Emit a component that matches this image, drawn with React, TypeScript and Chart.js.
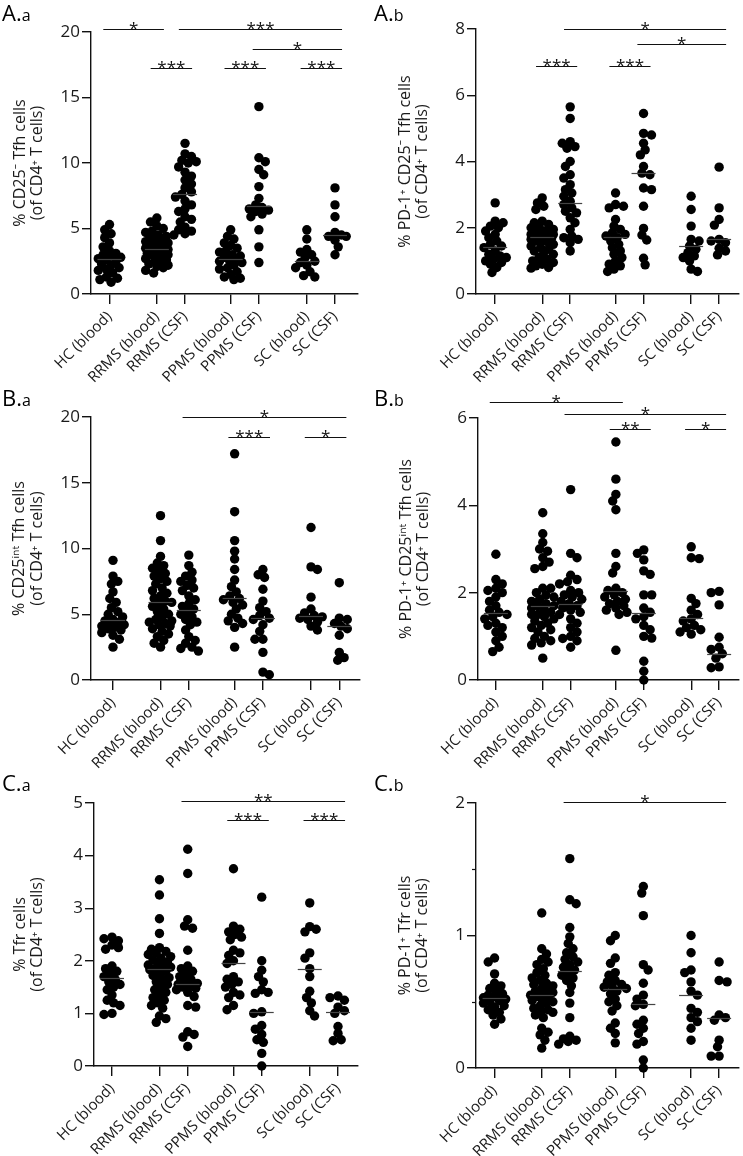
import React, { useEffect, useRef } from 'react';
import { Chart, registerables } from 'chart.js';

Chart.register(...registerables);

const FONT = "'Open Sans', 'Noto Sans', 'DejaVu Sans', sans-serif";
Chart.defaults.font.family = FONT;

// ---------- categories ----------
const CATEGORIES = ['HC (blood)', 'RRMS (blood)', 'RRMS (CSF)', 'PPMS (blood)', 'PPMS (CSF)', 'SC (blood)', 'SC (CSF)'];
const CATEGORY_POS = [0, 1.68, 2.68, 4.3, 5.3, 7.0, 8.0];

// ---------- A.a  % CD25- Tfh cells ----------
const AA_VALUES: number[][] = [
  [5.3, 4.9, 4.6, 4.3, 3.9, 3.6, 3.3, 3.1, 3.0, 2.9, 2.8, 2.7, 2.6, 2.5, 2.3, 2.2, 2.0, 1.9, 1.8, 1.6, 1.3, 1.2, 1.1, 0.9],
  [5.8, 5.5, 5.2, 5.0, 4.8, 4.7, 4.5, 4.4, 4.3, 4.2, 4.1, 4.0, 3.9, 3.8, 3.7, 3.6, 3.6, 3.5, 3.5, 3.4, 3.4, 3.3, 3.2, 3.1, 3.0, 2.9, 2.8, 2.7, 2.6, 2.5, 2.4, 2.3, 2.2, 2.1, 2.0, 1.8, 1.6],
  [11.5, 10.7, 10.5, 10.2, 10.1, 10.0, 9.7, 9.3, 9.0, 8.7, 8.4, 8.1, 7.8, 7.6, 7.4, 7.1, 6.8, 6.5, 6.3, 5.9, 5.7, 5.5, 5.1, 4.9, 4.8, 4.6, 4.5],
  [4.9, 4.4, 4.2, 3.9, 3.7, 3.5, 3.3, 3.2, 3.0, 2.9, 2.8, 2.7, 2.6, 2.5, 2.4, 2.2, 2.0, 1.9, 1.7, 1.5, 1.3, 1.2, 1.1],
  [14.3, 10.4, 10.1, 9.5, 9.1, 8.2, 7.3, 6.8, 6.6, 6.5, 6.4, 6.3, 6.1, 5.9, 4.9, 3.6, 2.4],
  [4.9, 4.2, 3.4, 3.2, 3.0, 2.8, 2.5, 2.4, 2.2, 2.0, 1.7, 1.4, 1.3],
  [8.1, 6.8, 5.9, 4.7, 4.5, 4.4, 4.4, 4.1, 3.6, 3.0],
];
const AA_CENTERS = [2.65, 3.4, 7.6, 2.65, 6.7, 2.5, 4.5];
const AA_BRACKETS: [number, number, number, string][] = [
  [0, 1, 20.25, '*'], [2, 6, 20.25, '***'], [4, 6, 18.7, '*'],
  [1, 2, 17.25, '***'], [3, 4, 17.25, '***'], [5, 6, 17.25, '***'],
];

// ---------- A.b  % PD-1+ CD25- Tfh cells ----------
const AB_VALUES: number[][] = [
  [2.75, 2.2, 2.15, 2.05, 2.0, 1.9, 1.8, 1.7, 1.6, 1.5, 1.45, 1.4, 1.3, 1.2, 1.15, 1.1, 1.05, 1.0, 0.95, 0.9, 0.8, 0.65],
  [2.9, 2.75, 2.65, 2.55, 2.2, 2.15, 2.1, 2.05, 2.0, 1.95, 1.9, 1.9, 1.85, 1.8, 1.8, 1.75, 1.75, 1.7, 1.7, 1.65, 1.6, 1.6, 1.55, 1.5, 1.45, 1.4, 1.35, 1.3, 1.25, 1.2, 1.1, 1.05, 1.0, 0.95, 0.9, 0.85, 0.8, 0.78],
  [5.65, 5.3, 4.6, 4.55, 4.45, 4.4, 4.0, 3.85, 3.6, 3.5, 3.3, 3.15, 3.05, 2.95, 2.8, 2.7, 2.6, 2.5, 2.45, 2.3, 2.15, 1.95, 1.75, 1.7, 1.65, 1.55, 1.3],
  [3.05, 2.7, 2.65, 2.6, 2.25, 2.05, 1.95, 1.85, 1.8, 1.75, 1.7, 1.6, 1.5, 1.4, 1.3, 1.2, 1.1, 1.0, 0.9, 0.85, 0.75, 0.68],
  [5.45, 4.85, 4.8, 4.55, 4.35, 4.2, 3.85, 3.65, 3.6, 3.2, 3.15, 2.65, 1.98, 1.78, 1.63, 1.08, 0.88],
  [2.95, 2.55, 2.05, 1.65, 1.6, 1.45, 1.35, 1.25, 1.15, 1.1, 1.0, 0.75, 0.68],
  [3.83, 2.6, 2.25, 2.08, 1.65, 1.6, 1.55, 1.38, 1.3, 1.18],
];
const AB_CENTERS = [1.43, 1.72, 2.76, 1.71, 3.65, 1.46, 1.65];
const AB_BRACKETS: [number, number, number, string][] = [
  [2, 6, 8.0, '*'], [4, 6, 7.55, '*'], [1, 2, 6.89, '***'], [3, 4, 6.89, '***'],
];

// ---------- B.a  % CD25int Tfh cells ----------
const BA_VALUES: number[][] = [
  [9.1, 7.9, 7.5, 7.3, 6.7, 6.2, 5.9, 5.5, 5.2, 5.0, 4.8, 4.6, 4.5, 4.4, 4.3, 4.2, 4.1, 4.0, 3.9, 3.8, 3.6, 3.4, 3.1, 2.5],
  [12.5, 10.6, 9.4, 8.9, 8.7, 8.5, 8.3, 8.1, 7.9, 7.7, 7.5, 7.3, 7.0, 6.8, 6.6, 6.4, 6.2, 6.0, 5.9, 5.8, 5.6, 5.4, 5.2, 5.0, 4.8, 4.6, 4.5, 4.4, 4.3, 4.2, 4.1, 3.9, 3.7, 3.5, 3.3, 3.0, 2.8, 2.5],
  [9.5, 8.7, 8.2, 7.9, 7.6, 7.5, 7.2, 7.0, 6.8, 6.4, 6.1, 5.8, 5.6, 5.4, 5.2, 5.0, 4.8, 4.6, 4.4, 4.2, 3.8, 3.3, 3.0, 2.8, 2.5, 2.4, 2.2],
  [17.2, 12.8, 10.6, 9.8, 9.2, 8.4, 7.6, 7.1, 6.7, 6.4, 6.2, 6.1, 5.9, 5.7, 5.4, 5.0, 4.7, 4.5, 4.3, 4.0, 2.5],
  [8.4, 8.0, 7.8, 6.9, 6.0, 5.5, 5.2, 4.9, 4.7, 4.6, 4.2, 3.7, 3.1, 3.1, 2.1, 0.6, 0.4],
  [11.6, 8.6, 8.4, 6.3, 5.4, 5.1, 4.9, 4.8, 4.7, 4.6, 4.4, 4.1, 3.8],
  [7.4, 4.7, 4.6, 4.3, 4.1, 3.9, 3.4, 2.1, 1.7, 1.5],
];
const BA_CENTERS = [4.55, 5.95, 5.3, 6.2, 4.7, 4.9, 4.1];
const BA_BRACKETS: [number, number, number, string][] = [
  [2, 6, 20.0, '*'], [3, 4, 18.5, '***'], [5, 6, 18.5, '*'],
];

// ---------- B.b  % PD-1+ CD25int Tfh cells ----------
const BB_VALUES: number[][] = [
  [2.88, 2.3, 2.2, 2.1, 2.05, 2.0, 1.9, 1.8, 1.7, 1.6, 1.55, 1.5, 1.45, 1.4, 1.3, 1.25, 1.2, 1.1, 1.0, 0.9, 0.75, 0.65],
  [3.83, 3.35, 3.15, 3.0, 2.95, 2.8, 2.7, 2.6, 2.55, 2.1, 2.1, 2.0, 1.95, 1.9, 1.85, 1.8, 1.75, 1.7, 1.7, 1.65, 1.6, 1.55, 1.5, 1.5, 1.45, 1.4, 1.35, 1.3, 1.25, 1.2, 1.15, 1.1, 1.0, 0.95, 0.9, 0.85, 0.8, 0.5],
  [4.36, 2.9, 2.8, 2.4, 2.3, 2.25, 2.2, 2.05, 2.0, 1.95, 1.9, 1.85, 1.8, 1.75, 1.7, 1.65, 1.6, 1.55, 1.5, 1.4, 1.3, 1.2, 1.1, 1.0, 0.95, 0.9, 0.75],
  [5.45, 4.6, 4.25, 4.1, 3.9, 2.9, 2.6, 2.45, 2.1, 2.05, 2.0, 1.95, 1.9, 1.85, 1.8, 1.75, 1.7, 1.65, 1.6, 1.55, 1.5, 0.68],
  [2.98, 2.9, 2.75, 2.5, 2.42, 1.95, 1.95, 1.65, 1.55, 1.45, 1.4, 1.25, 1.15, 1.0, 0.96, 0.43, 0.2, 0.0],
  [3.05, 2.8, 2.78, 1.87, 1.75, 1.6, 1.5, 1.4, 1.35, 1.25, 1.2, 1.15, 1.1, 1.05],
  [2.03, 2.0, 1.72, 0.98, 0.75, 0.7, 0.6, 0.5, 0.3, 0.28],
];
const BB_CENTERS = [1.53, 1.7, 1.75, 2.03, 1.53, 1.42, 0.6];
const BB_BRACKETS: [number, number, number, string][] = [
  [0, 3, 6.37, '*'], [2, 6, 6.1, '*'], [3, 4, 5.74, '**'], [5, 6, 5.74, '*'],
];

// ---------- C.a  % Tfr cells ----------
const CA_VALUES: number[][] = [
  [2.45, 2.42, 2.38, 2.3, 2.25, 2.22, 1.9, 1.85, 1.8, 1.75, 1.7, 1.65, 1.6, 1.55, 1.5, 1.45, 1.35, 1.25, 1.2, 1.15, 1.0, 0.98],
  [3.54, 3.25, 2.8, 2.52, 2.25, 2.22, 2.18, 2.15, 2.12, 2.08, 2.05, 2.02, 1.98, 1.95, 1.92, 1.9, 1.88, 1.85, 1.83, 1.8, 1.75, 1.72, 1.68, 1.65, 1.6, 1.55, 1.5, 1.45, 1.4, 1.35, 1.3, 1.25, 1.2, 1.15, 1.1, 0.95, 0.9, 0.83],
  [4.12, 3.66, 2.78, 2.66, 2.62, 2.2, 1.9, 1.85, 1.8, 1.75, 1.7, 1.65, 1.6, 1.57, 1.55, 1.52, 1.5, 1.48, 1.45, 1.4, 1.32, 1.15, 1.12, 0.65, 0.6, 0.55, 0.37],
  [3.75, 2.66, 2.6, 2.55, 2.5, 2.45, 2.4, 2.2, 2.15, 2.1, 2.0, 1.95, 1.7, 1.65, 1.6, 1.55, 1.5, 1.4, 1.35, 1.3, 1.15, 1.07],
  [3.21, 2.0, 1.82, 1.7, 1.6, 1.45, 1.4, 1.38, 1.03, 1.0, 0.77, 0.7, 0.6, 0.5, 0.45, 0.24, 0.0],
  [3.1, 2.65, 2.6, 2.55, 2.15, 2.05, 1.85, 1.7, 1.42, 1.3, 1.2, 1.05, 0.95],
  [1.33, 1.3, 1.25, 1.12, 1.05, 1.0, 0.75, 0.62, 0.5, 0.48],
];
const CA_CENTERS = [1.68, 1.84, 1.55, 1.95, 1.03, 1.85, 1.03];
const CA_BRACKETS: [number, number, number, string][] = [
  [2, 6, 5.04, '**'], [3, 4, 4.67, '***'], [5, 6, 4.67, '***'],
];

// ---------- C.b  % PD-1+ Tfr cells ----------
const CB_VALUES: number[][] = [
  [0.83, 0.8, 0.71, 0.64, 0.62, 0.6, 0.58, 0.56, 0.55, 0.54, 0.53, 0.52, 0.51, 0.5, 0.49, 0.47, 0.46, 0.44, 0.42, 0.4, 0.37, 0.33],
  [1.17, 0.9, 0.86, 0.82, 0.8, 0.78, 0.75, 0.72, 0.7, 0.68, 0.66, 0.64, 0.63, 0.62, 0.6, 0.59, 0.58, 0.57, 0.56, 0.55, 0.54, 0.53, 0.52, 0.51, 0.5, 0.49, 0.47, 0.45, 0.44, 0.43, 0.42, 0.4, 0.38, 0.3, 0.27, 0.25, 0.21, 0.15],
  [1.58, 1.27, 1.24, 1.06, 0.99, 0.94, 0.9, 0.87, 0.84, 0.82, 0.8, 0.78, 0.76, 0.74, 0.72, 0.7, 0.68, 0.66, 0.62, 0.57, 0.49, 0.38, 0.24, 0.22, 0.21, 0.2, 0.18],
  [1.0, 0.96, 0.83, 0.79, 0.72, 0.7, 0.66, 0.65, 0.63, 0.62, 0.61, 0.6, 0.58, 0.56, 0.52, 0.5, 0.47, 0.43, 0.34, 0.3, 0.26, 0.19],
  [1.37, 1.32, 1.15, 0.78, 0.74, 0.64, 0.55, 0.52, 0.48, 0.47, 0.36, 0.33, 0.3, 0.26, 0.2, 0.18, 0.06, 0.0],
  [1.0, 0.87, 0.74, 0.72, 0.65, 0.58, 0.55, 0.45, 0.42, 0.38, 0.35, 0.3, 0.21],
  [0.8, 0.66, 0.65, 0.4, 0.38, 0.36, 0.21, 0.16, 0.09, 0.09],
];
const CB_CENTERS = [0.53, 0.55, 0.73, 0.6, 0.48, 0.55, 0.375];
const CB_BRACKETS: [number, number, number, string][] = [[2, 6, 2.01, '*']];

// ---------- axis ticks ----------
const AA_YTICKS = [0, 5, 10, 15, 20];
const AB_YTICKS = [0, 2, 4, 6, 8];
const BA_YTICKS = [0, 5, 10, 15, 20];
const BB_YTICKS = [0, 2, 4, 6];
const CA_YTICKS = [0, 1, 2, 3, 4, 5];
const CB_YTICKS = [0, 1, 2];
const CB_MINOR = [0.5, 1.5];

interface PanelDef {
  id: string;
  letter: string;
  sub: string;
  title: string[];
  values: number[][];
  centers: number[];
  brackets: [number, number, number, string][];
  yTicks: number[];
  minor?: number[];
  cellX: number; cellY: number; cellW: number; cellH: number;
  left: number; right: number; top: number; bottom: number;
  hcPx: number; scPx: number; titlePad: number;
}

const PANELS: PanelDef[] = [
  { id: 'Aa', letter: 'A.', sub: 'a', title: ['% CD25\u207B Tfh cells', '(of CD4\u207A T cells)'], values: AA_VALUES, centers: AA_CENTERS, brackets: AA_BRACKETS, yTicks: AA_YTICKS,
    cellX: 0, cellY: 0, cellW: 372, cellH: 385, left: 91, right: 358, top: 32, bottom: 294, hcPx: 109.5, scPx: 335, titlePad: 11 },
  { id: 'Ab', letter: 'A.', sub: 'b', title: ['% PD-1\u207A CD25\u207B Tfh cells', '(of CD4\u207A T cells)'], values: AB_VALUES, centers: AB_CENTERS, brackets: AB_BRACKETS, yTicks: AB_YTICKS,
    cellX: 372, cellY: 0, cellW: 371, cellH: 385, left: 104, right: 368, top: 29, bottom: 294, hcPx: 123.3, scPx: 348.7, titlePad: 24 },
  { id: 'Ba', letter: 'B.', sub: 'a', title: ['% CD25\u2071\u207F\u1D57 Tfh cells', '(of CD4\u207A T cells)'], values: BA_VALUES, centers: BA_CENTERS, brackets: BA_BRACKETS, yTicks: BA_YTICKS,
    cellX: 0, cellY: 385, cellW: 372, cellH: 385, left: 91, right: 360, top: 32, bottom: 295, hcPx: 113, scPx: 339.3, titlePad: 10.5 },
  { id: 'Bb', letter: 'B.', sub: 'b', title: ['% PD-1\u207A CD25\u2071\u207F\u1D57 Tfh cells', '(of CD4\u207A T cells)'], values: BB_VALUES, centers: BB_CENTERS, brackets: BB_BRACKETS, yTicks: BB_YTICKS,
    cellX: 372, cellY: 385, cellW: 371, cellH: 385, left: 106, right: 368, top: 33, bottom: 295, hcPx: 124, scPx: 348.7, titlePad: 25 },
  { id: 'Ca', letter: 'C.', sub: 'a', title: ['% Tfr cells', '(of CD4\u207A T cells)'], values: CA_VALUES, centers: CA_CENTERS, brackets: CA_BRACKETS, yTicks: CA_YTICKS,
    cellX: 0, cellY: 770, cellW: 372, cellH: 386, left: 94, right: 358, top: 33, bottom: 296, hcPx: 112, scPx: 338, titlePad: 11 },
  { id: 'Cb', letter: 'C.', sub: 'b', title: ['% PD-1\u207A Tfr cells', '(of CD4\u207A T cells)'], values: CB_VALUES, centers: CB_CENTERS, brackets: CB_BRACKETS, yTicks: CB_YTICKS, minor: CB_MINOR,
    cellX: 372, cellY: 770, cellW: 371, cellH: 386, left: 104, right: 368, top: 33, bottom: 298, hcPx: 122.7, scPx: 348.7, titlePad: 24 },
];

const DOT_R = 4.7;

// compact deterministic beeswarm in pixel space (dots may overlap a little)
function swarm(values: number[], center: number, yPxPerUnit: number, xPxPerUnit: number) {
  const minDist = 6.8;
  const step = 1.6;
  const maxOff = 11.5;
  const cands: number[] = [0];
  for (let o = step; o <= maxOff + 1e-6; o += step) { cands.push(o, -o); }
  const placed: { ox: number; py: number }[] = [];
  const out: { x: number; y: number }[] = [];
  const sorted = [...values].sort((a, b) => b - a);
  sorted.forEach((v, idx) => {
    const py = v * yPxPerUnit;
    let chosen = 0, best = -1, bestOx = 0, found = false;
    const order = idx % 2 === 0 ? cands : cands.map(c => -c);
    for (const ox of order) {
      let d = Infinity;
      for (const q of placed) d = Math.min(d, Math.hypot(q.ox - ox, q.py - py));
      if (d >= minDist) { chosen = ox; found = true; break; }
      if (d > best) { best = d; bestOx = ox; }
    }
    if (!found) chosen = bestOx;
    placed.push({ ox: chosen, py });
    out.push({ x: center + chosen / xPxPerUnit, y: v });
  });
  return out;
}

function makeOverlay(p: PanelDef) {
  return {
    id: 'overlay' + p.id,
    afterDatasetsDraw(chart: any) {
      const { ctx, scales } = chart;
      const x = scales.x, y = scales.y;
      ctx.save();
      ctx.strokeStyle = '#444';
      ctx.lineWidth = 1.2;
      p.centers.forEach((c, i) => {
        const px = x.getPixelForValue(CATEGORY_POS[i]);
        const py = Math.round(y.getPixelForValue(c)) + 0.5;
        ctx.beginPath();
        ctx.moveTo(px - 12, py);
        ctx.lineTo(px + 12, py);
        ctx.stroke();
      });
      ctx.restore();
    },
    afterDraw(chart: any) {
      const { ctx, scales, chartArea } = chart;
      const x = scales.x, y = scales.y;
      const unit = x.getPixelForValue(1) - x.getPixelForValue(0);
      ctx.save();
      ctx.strokeStyle = '#111';
      ctx.fillStyle = '#111';
      ctx.lineWidth = 1.2;
      ctx.textAlign = 'center';
      ctx.textBaseline = 'alphabetic';
      ctx.font = `17px ${FONT}`;
      p.brackets.forEach(([a, b, v, s]) => {
        const x1 = x.getPixelForValue(CATEGORY_POS[a]) - 0.22 * unit;
        const x2 = x.getPixelForValue(CATEGORY_POS[b]) + 0.25 * unit;
        const py = Math.round(y.getPixelForValue(v)) + 0.5;
        ctx.beginPath();
        ctx.moveTo(x1, py);
        ctx.lineTo(x2, py);
        ctx.stroke();
        ctx.fillText(s, (x1 + x2) / 2, py + 4.5);
      });
      if (p.minor) {
        p.minor.forEach(v => {
          const py = Math.round(y.getPixelForValue(v)) + 0.5;
          ctx.beginPath();
          ctx.moveTo(chartArea.left - 4, py);
          ctx.lineTo(chartArea.left, py);
          ctx.stroke();
        });
      }
      ctx.textAlign = 'left';
      ctx.fillStyle = '#000';
      ctx.font = `22px ${FONT}`;
      ctx.fillText(p.letter, 2, 21);
      const w = ctx.measureText(p.letter).width;
      ctx.font = `16px ${FONT}`;
      ctx.fillText(p.sub, 2 + w, 21);
      ctx.restore();
    },
  };
}

function Panel({ p }: { p: PanelDef }) {
  const ref = useRef<HTMLCanvasElement>(null);
  useEffect(() => {
    if (!ref.current) return;
    const unit = (p.scPx - p.hcPx) / (CATEGORY_POS[6] - CATEGORY_POS[0]);
    const xMin = CATEGORY_POS[0] - (p.hcPx - p.left) / unit;
    const xMax = CATEGORY_POS[0] + (p.right - p.hcPx) / unit;
    const yMax = p.yTicks[p.yTicks.length - 1];
    const yPx = (p.bottom - p.top) / yMax;
    const datasets = p.values.map((vals, i) => ({
      data: swarm(vals, CATEGORY_POS[i], yPx, unit),
      backgroundColor: '#000',
      borderColor: '#000',
      borderWidth: 0,
      pointRadius: DOT_R,
      pointHoverRadius: DOT_R,
      clip: false as any,
    }));
    const chart = new Chart(ref.current, {
      type: 'scatter',
      data: { datasets },
      options: {
        responsive: false,
        animation: false,
        events: [],
        layout: { padding: { top: p.top, right: p.cellW - p.right, left: 0, bottom: 0 } },
        plugins: { legend: { display: false }, tooltip: { enabled: false } },
        scales: {
          x: {
            type: 'linear',
            min: xMin,
            max: xMax,
            afterBuildTicks: (s: any) => { s.ticks = CATEGORY_POS.map(v => ({ value: v })); },
            afterFit: (s: any) => { s.height = p.cellH - p.bottom; },
            ticks: {
              autoSkip: false,
              minRotation: 45,
              maxRotation: 45,
              padding: 4,
              color: '#1a1a1a',
              font: { size: 15, family: FONT },
              callback: (_v: any, i: number) => CATEGORIES[i],
            },
            grid: { drawOnChartArea: false, drawTicks: true, tickLength: 10, color: '#111', lineWidth: 1.4 },
            border: { color: '#111', width: 1.4 },
          },
          y: {
            type: 'linear',
            min: 0,
            max: yMax,
            afterBuildTicks: (s: any) => { s.ticks = p.yTicks.map(v => ({ value: v })); },
            afterFit: (s: any) => { s.width = p.left; },
            ticks: {
              padding: 2,
              color: '#1a1a1a',
              font: { size: 17, family: FONT },
              callback: (v: any) => String(v),
            },
            grid: { drawOnChartArea: false, drawTicks: true, tickLength: 9, color: '#111', lineWidth: 1.4 },
            border: { color: '#111', width: 1.4 },
            title: {
              display: true,
              text: p.title,
              color: '#1a1a1a',
              font: { size: 16, family: FONT, lineHeight: 1.12 },
              padding: { top: p.titlePad, bottom: 0 },
            },
          },
        },
      },
      plugins: [makeOverlay(p)],
    } as any);
    return () => chart.destroy();
  }, [p]);
  return (
    <div style={{ position: 'absolute', left: p.cellX, top: p.cellY, width: p.cellW, height: p.cellH }}>
      <canvas ref={ref} width={p.cellW} height={p.cellH} style={{ display: 'block', width: p.cellW, height: p.cellH }} />
    </div>
  );
}

export default function App() {
  return (
    <div style={{ position: 'absolute', left: 0, top: 0, width: 743, height: 1156, background: '#fff', overflow: 'hidden' }}>
      {PANELS.map(p => <Panel key={p.id} p={p} />)}
    </div>
  );
}
